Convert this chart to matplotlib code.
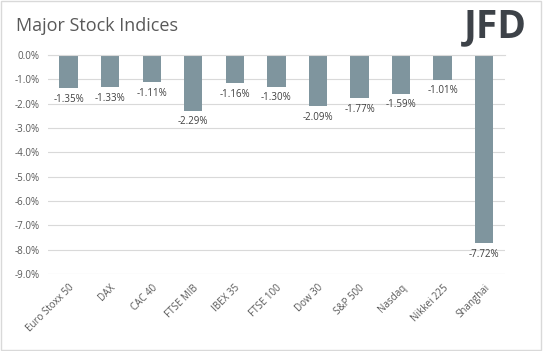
import numpy as np
import matplotlib.pyplot as plt
from matplotlib.patches import Rectangle

indices = ["Euro Stoxx 50", "DAX", "CAC 40", "FTSE MIB", "IBEX 35", "FTSE 100",
           "Dow 30", "S&P 500", "Nasdaq", "Nikkei 225", "Shanghai"]
changes = [-1.35, -1.33, -1.11, -2.29, -1.16, -1.30, -2.09, -1.77, -1.59, -1.01, -7.72]
yticks = [0, -1, -2, -3, -4, -5, -6, -7, -8, -9]

plt.rcParams['font.family'] = ['Open Sans', 'DejaVu Sans']

fig = plt.figure(figsize=(5.43, 3.51), dpi=100)
ax = fig.add_axes([0.088, 0.219, 0.842, 0.624])

x = np.arange(len(indices))
ax.bar(x, changes, width=0.44, color="#7f959e", zorder=2)
for xi, v in zip(x, changes):
    ax.annotate(f"{v:.2f}%", (xi, v), xytext=(0, -4), textcoords="offset points",
                ha="center", va="top", fontsize=7, color="#404040")

ax.set_ylim(-9, 0)
ax.set_xlim(-0.5, len(indices) - 0.5)
ax.set_yticks(yticks)
ax.set_yticklabels([f"{t:.1f}%" for t in yticks], fontsize=7, color="#595959")
ax.set_xticks(x)
ax.set_xticklabels(indices, rotation=45, ha="right", rotation_mode="anchor",
                   fontsize=7, color="#595959")
ax.grid(axis="y", color="#d9d9d9", linewidth=0.8, zorder=0)
ax.tick_params(length=0, pad=6)
for s in ["left", "right", "bottom"]:
    ax.spines[s].set_visible(False)
ax.spines["top"].set_color("#d9d9d9")

fig.text(0.03, 0.925, "Major Stock Indices", fontsize=13, color="#595959", va="center")
fig.text(0.912, 0.925, "JFD", fontsize=28, fontweight="bold", color="#3d4248",
         va="center", ha="center")
fig.patches.append(Rectangle((0.002, 0.003), 0.995, 0.994, transform=fig.transFigure,
                             fill=False, edgecolor="#d9d9d9", linewidth=1))

fig.savefig("out.png", dpi=100)
